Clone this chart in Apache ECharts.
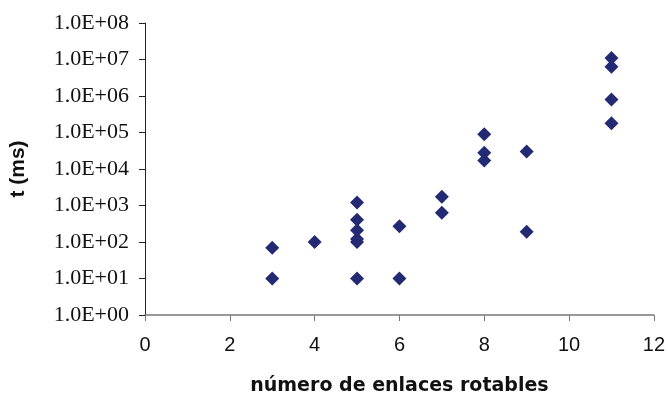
<!DOCTYPE html>
<html>
<head>
<meta charset="utf-8">
<script src="https://cdn.jsdelivr.net/npm/echarts@6/dist/echarts.min.js"></script>
<style>
  html, body { margin: 0; padding: 0; background: #fff; }
  #chart { width: 668px; height: 401px; }
</style>
</head>
<body>
<div id="chart"></div>
<script>
// número de enlaces rotables vs tiempo (ms)
const enlaces = [3, 3, 4, 5, 5, 5, 5, 5, 5, 6, 6, 7, 7, 8, 8, 8, 9, 9, 11, 11, 11, 11];
const tiempos = [70, 10, 100, 1200, 410, 210, 120, 100, 10, 270, 10, 1740, 630, 89000, 28000, 17000, 30000, 190, 11000000, 6300000, 800000, 180000];
const xTicks = [0, 2, 4, 6, 8, 10, 12];

const puntos = enlaces.map((x, i) => [x, tiempos[i]]);

const chart = echarts.init(document.getElementById('chart'));
chart.setOption({
  animation: false,
  grid: { left: 144, right: 13, top: 23, bottom: 80 },
  xAxis: {
    type: 'value',
    min: xTicks[0],
    max: xTicks[xTicks.length - 1],
    interval: 2,
    name: 'número de enlaces rotables',
    nameLocation: 'middle',
    nameGap: 62,
    nameTextStyle: { fontFamily: 'DejaVu Sans', fontWeight: 'bold', fontSize: 19, color: '#111' },
    axisLine: { lineStyle: { color: '#777', width: 1.5 } },
    axisTick: { length: 6, lineStyle: { color: '#777' } },
    axisLabel: { fontFamily: 'Liberation Sans', fontSize: 20, color: '#111', margin: 20 },
    splitLine: { show: false }
  },
  yAxis: {
    type: 'log',
    logBase: 10,
    min: 1,
    max: 1e8,
    name: 't (ms)',
    nameLocation: 'middle',
    nameGap: 116,
    nameTextStyle: { fontFamily: 'Liberation Sans', fontWeight: 'bold', fontSize: 21, color: '#111' },
    axisLine: { show: true, lineStyle: { color: '#222', width: 1 } },
    axisTick: { show: true, length: 6, lineStyle: { color: '#222' } },
    axisLabel: {
      fontFamily: 'Liberation Serif',
      fontSize: 22,
      color: '#111',
      margin: 16,
      formatter: v => {
        const e = Math.round(Math.log10(v));
        return '1.0E+' + (e < 10 ? '0' : '') + e;
      }
    },
    splitLine: { show: false }
  },
  series: [{
    type: 'scatter',
    data: puntos,
    symbol: 'diamond',
    symbolSize: [14, 14],
    itemStyle: { color: '#232a73', opacity: 1 }
  }]
});
</script>
</body>
</html>
